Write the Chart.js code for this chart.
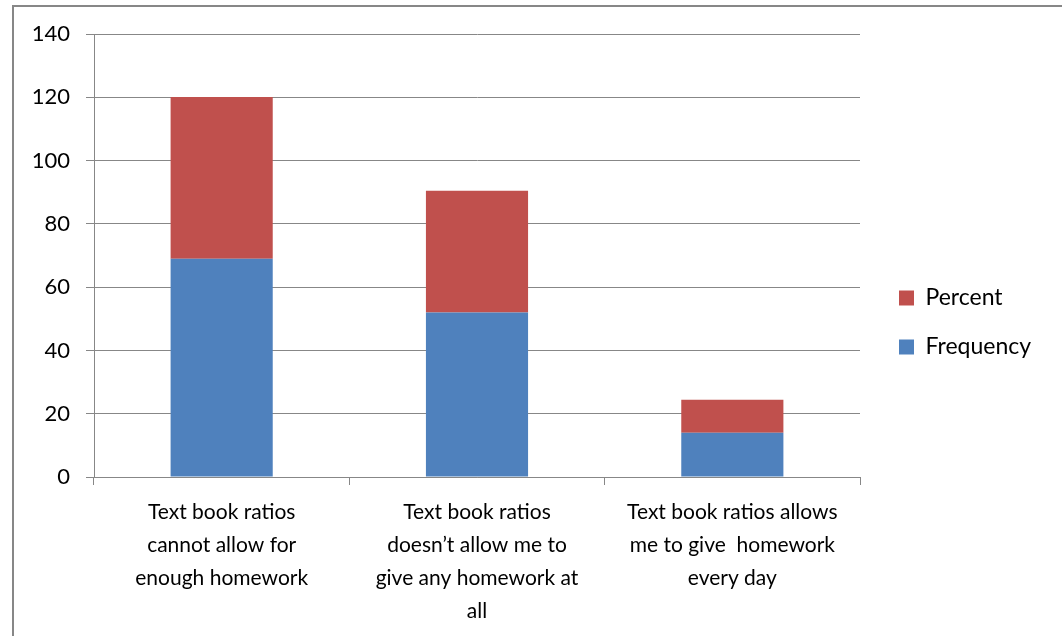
<!DOCTYPE html>
<html lang="en">
<head>
  <meta charset="UTF-8" />
  <title>Text book ratios</title>
  <script src="https://cdn.jsdelivr.net/npm/chart.js"></script>
  <style>
    html, body {
      margin: 0;
      padding: 0;
      background: #fff;
      overflow: hidden;
    }
    #frame {
      position: absolute;
      left: 12px;
      top: 5px;
      width: 1100px;
      height: 700px;
      border: 2px solid #878787;
    }
    #wrap {
      position: absolute;
      left: 0;
      top: 0;
      width: 1062px;
      height: 636px;
    }
  </style>
</head>
<body>
  <div id="frame"></div>
  <div id="wrap">
    <canvas id="ratioChart"></canvas>
  </div>

  <script>
    // categories (line breaks as in the picture)
    const categories = [
      ['Text book ratios', 'cannot allow for', 'enough homework'],
      ['Text book ratios', 'doesn\u2019t allow me to', 'give any homework at', 'all'],
      ['Text book ratios allows', 'me to give  homework', 'every day']
    ];
    const frequency = [69, 52, 14];
    const percent = [51.1, 38.5, 10.4];
    const yTicks = [0, 20, 40, 60, 80, 100, 120, 140];

    const FONT = 'Lato, "Open Sans", sans-serif';
    const GRID = '#878787';
    const LEG_SIZE = 23;
    const LEG_PAD = 26;
    const GAP = 13;

    const ctx = document.getElementById('ratioChart').getContext('2d');

    // legend width = padding + box + half font + text + 10, so the plot ends at x=860
    ctx.font = LEG_SIZE + 'px ' + FONT;
    const legendW = LEG_PAD + 15 + LEG_SIZE / 2 + ctx.measureText('Frequency').width + 10;
    const padRight = Math.max(0, 1062 - 860 - GAP - legendW);

    new Chart(ctx, {
      type: 'bar',
      data: {
        labels: categories,
        datasets: [
          {
            label: 'Frequency',
            data: frequency,
            backgroundColor: '#4F81BD',
            borderWidth: 0
          },
          {
            label: 'Percent',
            data: percent,
            backgroundColor: '#C0504D',
            borderWidth: 0
          }
        ]
      },
      options: {
        responsive: true,
        maintainAspectRatio: false,
        animation: false,
        datasets: {
          bar: { categoryPercentage: 1, barPercentage: 0.4 }
        },
        layout: {
          padding: { left: 14, top: 34, right: padRight, bottom: 0 }
        },
        plugins: {
          tooltip: { enabled: false },
          legend: {
            position: 'right',
            fullSize: false,
            reverse: true,
            // empty title only pushes the two items down to mid-height
            title: {
              display: true,
              text: '',
              font: { size: 10 },
              padding: { top: 122, bottom: 0 }
            },
            labels: {
              boxWidth: 15,
              boxHeight: 15,
              padding: LEG_PAD,
              color: '#000',
              font: { family: FONT, size: LEG_SIZE }
            }
          }
        },
        scales: {
          x: {
            stacked: true,
            grid: {
              display: true,
              drawOnChartArea: false,
              drawTicks: true,
              tickLength: 8,
              color: GRID
            },
            border: { display: true, color: GRID },
            ticks: {
              color: '#000',
              autoSkip: false,
              maxRotation: 0,
              padding: 11,
              font: { family: FONT, size: 21, lineHeight: 33 / 21 }
            },
            afterFit: s => { s.height = 159; }
          },
          y: {
            stacked: true,
            min: 0,
            max: 140,
            afterBuildTicks: s => { s.ticks = yTicks.map(v => ({ value: v })); },
            grid: {
              color: GRID,
              tickLength: 8
            },
            border: { display: true, color: GRID },
            ticks: {
              color: '#000',
              padding: 16,
              font: { family: FONT, size: 22 }
            },
            afterFit: s => { s.width = 80; }
          },
          // empty spacer between plot and legend
          gap: {
            type: 'linear',
            position: 'right',
            grid: { display: false },
            border: { display: false },
            ticks: { display: false },
            afterFit: s => { s.width = GAP; }
          }
        }
      }
    });
  </script>
</body>
</html>
